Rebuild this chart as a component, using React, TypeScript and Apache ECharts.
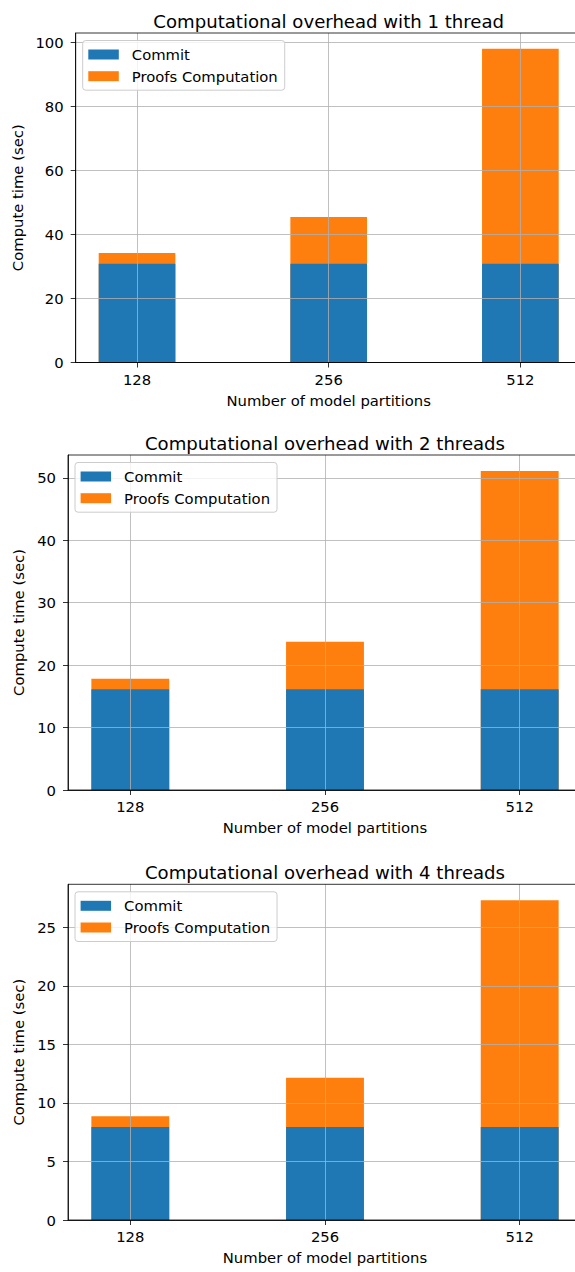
import React, { useEffect, useRef } from "react";
import * as echarts from "echarts";

// ---- data ----
const categories = ["128", "256", "512"];
const panelTitles = [
  "Computational overhead with 1 thread",
  "Computational overhead with 2 threads",
  "Computational overhead with 4 threads",
];
const seriesNames = ["Commit", "Proofs Computation"];
const commit1 = [30.9, 30.9, 30.9];
const proofs1 = [3.3, 14.6, 67.2];
const commit2 = [16.15, 16.15, 16.15];
const proofs2 = [1.65, 7.6, 34.95];
const commit4 = [7.95, 7.95, 7.95];
const proofs4 = [0.9, 4.2, 19.35];
const yTicks1 = [0, 20, 40, 60, 80, 100];
const yTicks2 = [0, 10, 20, 30, 40, 50];
const yTicks4 = [0, 5, 10, 15, 20, 25];
const xTickValues = [0, 1, 2];
const xAxisTitle = "Number of model partitions";
const yAxisTitle = "Compute time (sec)";

const commits = [commit1, commit2, commit4];
const proofs = [proofs1, proofs2, proofs4];
const yTicks = [yTicks1, yTicks2, yTicks4];

// ---- layout / style ----
const FONT = "DejaVu Sans";
const LABEL_SIZE = 14.8;
const TITLE_SIZE = 18.1;
const BLUE = "#1f77b4";
const ORANGE = "#ff7f0e";
const GRIDLINE = "#b0b0b0";
const X_MIN = -0.32;
const X_MAX = 2.32;
const CANVAS_W = 600; // plot boxes run past the 575px page edge, as in the reference

const layout = [
  { left: 75.7, top: 33, bottom: 362.5, width: 506, titleY: 21 },
  { left: 68, top: 455, bottom: 790, width: 514, titleY: 443.5 },
  { left: 68, top: 884.3, bottom: 1220, width: 514, titleY: 872 },
];

export default function App() {
  const ref = useRef<HTMLDivElement>(null);

  useEffect(() => {
    if (!ref.current) return;
    const chart = echarts.init(ref.current, undefined, { renderer: "svg" });

    const grids: any[] = [];
    const xAxes: any[] = [];
    const yAxes: any[] = [];
    const series: any[] = [];
    const legends: any[] = [];
    const graphics: any[] = [];

    layout.forEach((L, i) => {
      const height = L.bottom - L.top;
      const spacing = L.width / (X_MAX - X_MIN);
      // stacked top of each column = commit + proofs
      const totals = commits[i].map((c, k) => c + proofs[i][k]);
      const yMax = Math.max(...totals) * 1.05;
      const ticks = yTicks[i];
      const step = ticks[1] - ticks[0];

      grids.push({
        left: L.left,
        top: L.top,
        width: L.width,
        height,
        show: true,
        z: 5,
        backgroundColor: "rgba(0,0,0,0)",
        borderColor: "#000",
        borderWidth: 0.8,
        containLabel: false,
      });

      xAxes.push({
        type: "value",
        gridIndex: i,
        min: X_MIN,
        max: X_MAX,
        minInterval: 1,
        maxInterval: 1,
        z: 3,
        axisLine: { show: true, onZero: false, lineStyle: { color: "#000", width: 0.8 } },
        axisTick: {
          show: true,
          customValues: xTickValues,
          length: 5,
          lineStyle: { color: "#000", width: 0.8 },
        },
        axisLabel: {
          customValues: xTickValues,
          margin: 9,
          color: "#000",
          fontFamily: FONT,
          fontSize: LABEL_SIZE,
          formatter: (v: number) => {
            const k = Math.round(v);
            return Math.abs(v - k) < 1e-6 && categories[k] ? categories[k] : "";
          },
        },
        splitLine: { show: true, lineStyle: { color: GRIDLINE, width: 0.8 } },
        name: xAxisTitle,
        nameLocation: "middle",
        nameGap: 30,
        nameTextStyle: { color: "#000", fontFamily: FONT, fontSize: LABEL_SIZE },
      });

      yAxes.push({
        type: "value",
        gridIndex: i,
        min: 0,
        max: yMax,
        interval: step,
        z: 3,
        axisLine: { show: true, onZero: false, lineStyle: { color: "#000", width: 0.8 } },
        axisTick: {
          show: true,
          customValues: ticks,
          length: 5,
          lineStyle: { color: "#000", width: 0.8 },
        },
        axisLabel: {
          customValues: ticks,
          margin: 12,
          color: "#000",
          fontFamily: FONT,
          fontSize: LABEL_SIZE,
          formatter: (v: number) =>
            Math.abs(v / step - Math.round(v / step)) < 1e-6 ? String(Math.round(v)) : "",
        },
        splitLine: { show: true, lineStyle: { color: GRIDLINE, width: 0.8 } },
        name: yAxisTitle,
        nameLocation: "middle",
        nameRotate: 90,
        nameGap: L.left - 20 - 9,
        nameTextStyle: { color: "#000", fontFamily: FONT, fontSize: LABEL_SIZE },
      });

      const barWidth = 0.4 * spacing;
      // Proofs segment sits on top of Commit: draw the full column in orange,
      // then the Commit part over it in blue at the same position.
      series.push({
        type: "bar",
        name: seriesNames[1],
        xAxisIndex: i,
        yAxisIndex: i,
        barWidth,
        barGap: "-100%",
        z: 2,
        itemStyle: { color: ORANGE },
        data: totals.map((v, k) => [xTickValues[k], v]),
      });
      series.push({
        type: "bar",
        name: seriesNames[0],
        xAxisIndex: i,
        yAxisIndex: i,
        barWidth,
        barGap: "-100%",
        z: 2.5,
        itemStyle: { color: BLUE },
        data: commits[i].map((v, k) => [xTickValues[k], v]),
      });

      legends.push({
        orient: "vertical",
        left: L.left + 7,
        top: L.top + 7.5,
        itemWidth: 30.5,
        itemHeight: 10,
        itemGap: 5.7,
        padding: [6, 7, 6, 5.6],
        backgroundColor: "rgba(255,255,255,0.8)",
        borderColor: "#cccccc",
        borderWidth: 1,
        borderRadius: 3,
        selectedMode: false,
        z: 6,
        textStyle: {
          color: "#000",
          fontFamily: FONT,
          fontSize: LABEL_SIZE,
          lineHeight: 16,
          padding: [0, 0, 0, 8],
        },
        data: seriesNames.map((n) => ({ name: n, icon: "rect" })),
      });

      graphics.push({
        type: "text",
        x: L.left + L.width / 2,
        y: L.titleY,
        style: {
          text: panelTitles[i],
          textAlign: "center",
          textVerticalAlign: "middle",
          fill: "#000",
          fontFamily: FONT,
          fontSize: TITLE_SIZE,
        },
      });
    });

    chart.setOption({
      animation: false,
      backgroundColor: "#fff",
      grid: grids,
      xAxis: xAxes,
      yAxis: yAxes,
      legend: legends,
      series,
      graphic: graphics,
    });

    return () => chart.dispose();
  }, []);

  return (
    <div
      style={{
        position: "absolute",
        left: 0,
        top: 0,
        width: 575,
        height: 1272,
        overflow: "hidden",
      }}
    >
      <div ref={ref} style={{ width: CANVAS_W, height: 1272 }} />
    </div>
  );
}
